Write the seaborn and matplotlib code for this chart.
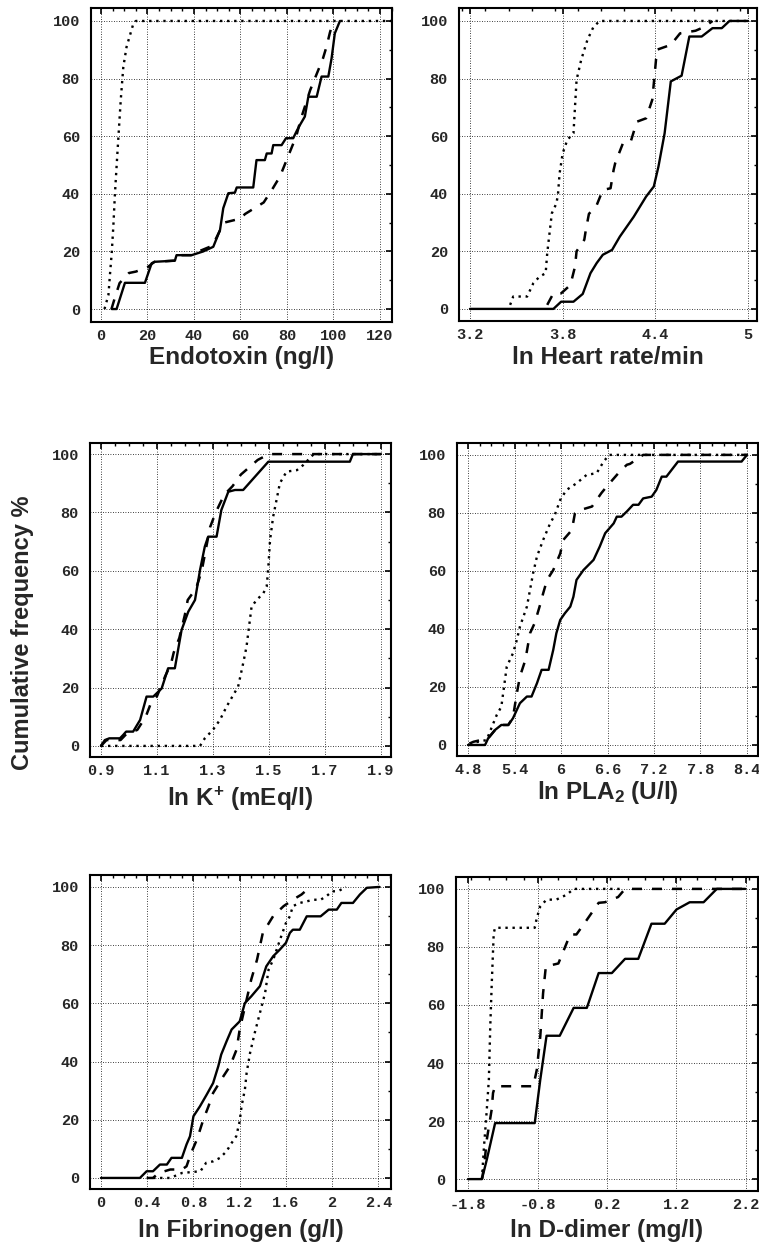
import matplotlib
matplotlib.use("Agg")
import matplotlib.pyplot as plt
import seaborn as sns
from matplotlib.ticker import FixedLocator, MultipleLocator, FuncFormatter

# ---- Endotoxin (ng/l)
endo_solid_x = [4.6, 6.7, 10.3, 18.9, 21.8, 23.2, 31.8, 32.5, 39.0, 44.0, 48.3, 51.2, 52.6, 54.8, 57.6, 58.4,
                65.5, 66.9, 70.5, 71.3, 73.4, 74.1, 77.7, 79.6, 82.7, 84.2, 85.6, 87.7, 89.2, 92.8, 94.9,
                97.8, 99.2, 100.6, 102.8]
endo_solid_y = [0, 0, 9.1, 9.1, 15.9, 16.4, 16.8, 18.7, 18.7, 20.0, 21.6, 27.4, 35.0, 40.2, 40.4, 42.2,
                42.2, 51.7, 51.7, 54.0, 54.0, 56.9, 56.9, 59.3, 59.3, 61.8, 63.9, 66.8, 73.7, 73.7, 80.7,
                80.7, 87.0, 95.7, 100]
endo_dash_x = [4.5, 6.0, 8.0, 12.0, 15.0, 20.0, 23.0, 32.0, 33.0, 39.0, 42.0, 45.0, 48.0, 51.0, 53.0, 58.0,
               60.0, 62.0, 66.0, 70.0, 74.0, 77.0, 79.0, 81.0, 84.0, 86.0, 88.0, 90.0, 92.0, 94.0, 95.5,
               97.0, 98.5, 100.0]
endo_dash_y = [0, 4, 9, 12.5, 13, 14.5, 16.4, 16.8, 18.7, 18.7, 20, 21, 22, 27, 30, 31, 31.5, 33, 35, 37,
               42, 46, 50, 54, 60, 66, 71, 76, 80, 84, 87, 91, 96, 100]
endo_dot_x = [1.5, 3.2, 3.9, 4.6, 5.3, 6.0, 6.7, 7.5, 8.5, 9.6, 11.0, 13.9, 15.0, 125]
endo_dot_y = [0, 4.9, 12.4, 19.3, 28.6, 40, 49.4, 59.8, 72.6, 84, 91, 99, 100, 100]
endo_ticks = [0, 20, 40, 60, 80, 100, 120]

# ---- ln Heart rate/min
hr_solid_x = [3.2, 3.74, 3.79, 3.87, 3.93, 3.98, 4.02, 4.06, 4.12, 4.17, 4.26, 4.34, 4.39, 4.42, 4.46,
              4.50, 4.57, 4.62, 4.70, 4.77, 4.83, 4.88, 5.0]
hr_solid_y = [0, 0, 2.5, 2.5, 5.2, 12.4, 15.9, 18.8, 20.5, 25.1, 32, 39, 42.5, 49.4, 61, 79, 81, 94.6,
              94.6, 97.5, 97.5, 100, 100]
hr_dash_x = [3.70, 3.74, 3.79, 3.85, 3.88, 3.89, 3.94, 3.95, 3.97, 4.02, 4.06, 4.11, 4.13, 4.14, 4.19,
             4.24, 4.28, 4.34, 4.38, 4.40, 4.41, 4.50, 4.56, 4.66, 4.72, 4.77]
hr_dash_y = [1.4, 5.4, 5.4, 8.3, 14.7, 20, 24, 27.4, 33, 36, 41.3, 41.9, 48.3, 50.6, 57.5, 58, 65, 66.2,
             72.6, 84, 90, 91.7, 95.7, 96.6, 98, 100]
hr_dot_x = [3.46, 3.48, 3.57, 3.61, 3.65, 3.69, 3.70, 3.71, 3.73, 3.76, 3.77, 3.78, 3.80, 3.83, 3.87,
            3.88, 3.89, 3.92, 3.96, 4.00, 4.04, 5.0]
hr_dot_y = [1.4, 4.3, 4.3, 8.9, 11.2, 12.4, 19.3, 24, 33.2, 36.7, 40, 47, 54, 58.7, 61, 70.3, 79.5, 86.5,
            93.4, 98, 100, 100]
hr_ticks = [3.2, 3.8, 4.4, 5.0]

# ---- ln K+ (mEq/l)
k_solid_x = [0.90, 0.914, 0.93, 0.968, 0.98, 0.99, 1.015, 1.04, 1.063, 1.087, 1.117, 1.14, 1.164, 1.188,
             1.212, 1.236, 1.254, 1.271, 1.283, 1.313, 1.33, 1.355, 1.379, 1.408, 1.498, 1.789, 1.80, 1.90]
k_solid_y = [0, 2, 2.6, 2.6, 3.8, 4.9, 4.9, 8.9, 16.9, 16.9, 19.7, 26.6, 26.6, 39.7, 46, 50, 60.3, 68.3,
             71.7, 71.7, 80.8, 87.1, 87.7, 87.7, 97.4, 97.4, 100, 100]
k_dash_x = [0.90, 0.92, 0.97, 0.99, 1.03, 1.06, 1.08, 1.10, 1.13, 1.15, 1.16, 1.18, 1.20, 1.21, 1.24,
            1.26, 1.28, 1.29, 1.31, 1.34, 1.37, 1.40, 1.43, 1.46, 1.50, 1.90]
k_dash_y = [0, 2, 2, 4, 5.5, 10, 15, 17, 24, 28, 32, 37, 45, 50, 54, 60, 70, 75, 80, 86, 89, 93, 95.5,
            98, 100, 100]
k_dot_x = [0.90, 1.254, 1.271, 1.30, 1.325, 1.349, 1.373, 1.39, 1.408, 1.42, 1.426, 1.438, 1.456, 1.48,
           1.492, 1.498, 1.504, 1.515, 1.527, 1.539, 1.563, 1.60, 1.622, 1.66, 1.90]
k_dot_y = [0, 0, 2.6, 5.5, 8.9, 13.5, 17.5, 20.3, 28.3, 34, 38.6, 47.7, 50, 52.3, 54.6, 61.4, 70.5, 78.5,
           84.2, 90, 94, 94.5, 96.2, 100, 100]
k_ticks = [0.9, 1.1, 1.3, 1.5, 1.7, 1.9]

# ---- ln PLA2 (U/l)
pla_solid_x = [4.80, 5.02, 5.06, 5.15, 5.23, 5.32, 5.38, 5.47, 5.56, 5.62, 5.69, 5.75, 5.84, 5.90, 5.94,
               5.99, 6.05, 6.12, 6.16, 6.20, 6.29, 6.42, 6.50, 6.57, 6.68, 6.72, 6.78, 6.85, 6.93, 7.00,
               7.06, 7.17, 7.23, 7.30, 7.36, 7.51, 8.33, 8.40]
pla_solid_y = [0, 0, 2.3, 5.2, 6.9, 6.9, 9.2, 14.4, 16.7, 16.7, 21.3, 25.9, 25.9, 32.8, 38.5, 43.1, 45.4,
               47.7, 51.1, 56.9, 60.3, 63.8, 68.4, 73, 76.4, 78.7, 78.7, 80.5, 82.8, 82.8, 85, 85.6, 87.9,
               92.5, 92.5, 97.7, 97.7, 100]
pla_dash_x = [4.82, 4.87, 5.06, 5.15, 5.23, 5.32, 5.38, 5.43, 5.47, 5.54, 5.60, 5.66, 5.73, 5.77, 5.82,
              5.90, 5.99, 6.03, 6.14, 6.18, 6.25, 6.40, 6.52, 6.59, 6.76, 6.85, 6.89, 7.06, 8.40]
pla_dash_y = [0.5, 1.1, 2.3, 5.2, 6.9, 6.9, 9.5, 17.8, 23.6, 29.3, 38.5, 42, 48.3, 52.3, 56.9, 60.3, 66,
              70.7, 74.1, 79.9, 81, 82.2, 86.8, 89.1, 94.3, 96.6, 96.9, 100, 100]
pla_dot_x = [4.82, 5.04, 5.10, 5.17, 5.23, 5.30, 5.38, 5.43, 5.47, 5.56, 5.64, 5.69, 5.77, 5.86, 5.92,
             5.99, 6.07, 6.20, 6.33, 6.46, 6.55, 6.62, 8.40]
pla_dot_y = [0.5, 1.7, 5.7, 10.3, 13.2, 27, 31.6, 36.2, 40.8, 47.7, 59.2, 65, 70.7, 76.4, 79.3, 84.5,
             87.9, 90.2, 93.1, 93.7, 97.7, 100, 100]
pla_ticks = [4.8, 5.4, 6.0, 6.6, 7.2, 7.8, 8.4]

# ---- ln Fibrinogen (g/l)
fib_solid_x = [0, 0.337, 0.395, 0.45, 0.51, 0.57, 0.61, 0.70, 0.74, 0.77, 0.80, 0.856, 0.914, 0.97,
               1.015, 1.04, 1.087, 1.13, 1.20, 1.245, 1.30, 1.375, 1.43, 1.49, 1.548, 1.60, 1.634, 1.66,
               1.72, 1.78, 1.90, 1.97, 2.04, 2.08, 2.18, 2.24, 2.30, 2.41]
fib_solid_y = [0, 0, 2.3, 2.3, 4.6, 4.6, 6.9, 6.9, 11.5, 14.3, 21.2, 24.6, 28.6, 32.6, 38.4, 42.4, 47,
               51, 53.8, 60.1, 62.4, 65.9, 72.7, 76.2, 78.5, 80.8, 84.2, 85.3, 85.3, 89.9, 89.9, 92.2,
               92.2, 94.5, 94.5, 97.4, 99.7, 100]
fib_dash_x = [0.395, 0.45, 0.50, 0.60, 0.70, 0.74, 0.78, 0.83, 0.885, 0.93, 0.97, 1.06, 1.116, 1.173,
              1.20, 1.26, 1.30, 1.35, 1.40, 1.49, 1.58, 1.66, 1.735, 1.81]
fib_dash_y = [0, 0, 1.7, 2.9, 2.9, 4, 8.6, 13.2, 20, 24.6, 29.2, 35, 38.4, 44.1, 51, 61.3, 68.2, 75,
              84.2, 90, 93.4, 95.6, 97.4, 100]
fib_dot_x = [0.45, 0.60, 0.70, 0.86, 0.91, 0.97, 1.03, 1.087, 1.13, 1.17, 1.20, 1.216, 1.245, 1.26,
             1.29, 1.33, 1.375, 1.42, 1.45, 1.49, 1.55, 1.60, 1.634, 1.66, 1.72, 1.84, 1.90, 1.95, 2.00,
             2.05, 2.12]
fib_dot_y = [0, 0, 1.7, 2.3, 5.2, 5.7, 6.9, 9.2, 12, 14.3, 19.5, 24.6, 30.4, 36.1, 43, 49.8, 56.7, 63.6,
             71.6, 75, 82, 87.6, 89.9, 93.4, 94.5, 95.6, 95.6, 96.8, 98.5, 98.5, 100]
fib_ticks = [0, 0.4, 0.8, 1.2, 1.6, 2.0, 2.4]

# ---- ln D-dimer (mg/l)
dd_solid_x = [-1.8, -1.6, -1.53, -1.41, -0.84, -0.76, -0.67, -0.48, -0.28, -0.09, 0.08, 0.27, 0.46,
              0.65, 0.84, 1.03, 1.20, 1.39, 1.59, 1.78, 2.19]
dd_solid_y = [0, 0, 6.7, 19.3, 19.3, 34.3, 49.4, 49.4, 59, 59, 71, 71, 75.9, 75.9, 88, 88, 92.9, 95.4,
              95.4, 100, 100]
dd_dash_x = [-1.6, -1.57, -1.53, -1.46, -1.44, -1.41, -0.86, -0.81, -0.76, -0.72, -0.68, -0.50, -0.33,
             -0.24, -0.10, 0.08, 0.17, 0.36, 0.46, 2.2]
dd_dash_y = [0, 4, 13.6, 23.9, 29.7, 32, 32, 37.7, 49.2, 64, 73.3, 74.3, 84.3, 84.3, 89, 95.2, 95.4,
             97.2, 100, 100]
dd_dot_x = [-1.6, -1.57, -1.54, -1.50, -1.48, -1.46, -1.43, -1.41, -0.84, -0.81, -0.76, -0.67, -0.53,
            -0.38, -0.28, 0.4]
dd_dot_y = [0, 11.3, 20.5, 34.3, 52.6, 66.4, 84.8, 86.6, 86.6, 90, 94, 96.3, 96.3, 98, 100, 100]
dd_ticks = [-1.8, -0.8, 0.2, 1.2, 2.2]

y_ticks = [0, 20, 40, 60, 80, 100]

sns.set_style("white")
plt.rcParams['font.family'] = ['Liberation Sans', 'DejaVu Sans']
plt.rcParams['mathtext.fontset'] = 'custom'
plt.rcParams['mathtext.rm'] = 'Liberation Sans:bold'
plt.rcParams['mathtext.it'] = 'Liberation Sans:bold'
plt.rcParams['mathtext.bf'] = 'Liberation Sans:bold'

W, H = 759, 1249
fig = plt.figure(figsize=(W / 100, H / 100), dpi=100)

tick_font = dict(family='Liberation Mono', weight='bold', size=11)
fmt = FuncFormatter(lambda v, p: f"{round(v, 3):g}")


def panel(box, xlim, ylim, ticks, minor, label, label_y, curves):
    l, r, t, b = box
    ax = fig.add_axes([l / W, 1 - b / H, (r - l) / W, (b - t) / H])
    # solid, dashed, dotted groups
    for (xs, ys), ls, lw in zip(curves, ['-', (0, (4, 4)), (0, (1, 2))], [1.7, 1.8, 1.7]):
        sns.lineplot(x=xs, y=ys, ax=ax, color='black', linewidth=lw, linestyle=ls,
                     estimator=None, sort=False, dash_capstyle='butt')
    ax.set_xlim(*xlim)
    ax.set_ylim(*ylim)
    ax.xaxis.set_major_locator(FixedLocator(ticks))
    ax.xaxis.set_minor_locator(MultipleLocator(minor))
    ax.xaxis.set_major_formatter(fmt)
    ax.yaxis.set_major_locator(FixedLocator(y_ticks))
    ax.yaxis.set_minor_locator(MultipleLocator(10))
    ax.grid(True, which='major', color='black', linestyle=(0, (1, 2)), linewidth=0.6)
    ax.tick_params(which='both', direction='in', top=True, right=True, color='black')
    ax.tick_params(which='major', length=4, width=1.2)
    ax.tick_params(which='minor', length=2.5, width=1.0)
    ax.tick_params(axis='x', pad=5)
    ax.tick_params(axis='y', pad=8)
    for lab in ax.get_xticklabels() + ax.get_yticklabels():
        lab.set_fontproperties(tick_font)
    for s in ax.spines.values():
        s.set_visible(True)
        s.set_color('black')
        s.set_linewidth(1.5)
    ax.set_xlabel(label, fontsize=17.5, fontweight='bold', va='top')
    ax.xaxis.set_label_coords(0.5, label_y)
    ax.set_ylabel('')
    return ax


panel((91, 392, 8, 322), (-4.3, 125.2), (-4.5, 104.5), endo_ticks, 5, 'Endotoxin (ng/l)', -0.078,
      [(endo_solid_x, endo_solid_y), (endo_dash_x, endo_dash_y), (endo_dot_x, endo_dot_y)])
panel((459, 757, 8, 321), (3.129, 5.058), (-4.2, 104.5), hr_ticks, 0.15, 'ln Heart rate/min', -0.081,
      [(hr_solid_x, hr_solid_y), (hr_dash_x, hr_dash_y), (hr_dot_x, hr_dot_y)])
panel((90, 391, 443, 757), (0.861, 1.936), (-3.8, 103.8), k_ticks, 0.05, r'ln K$^{+}$ (mEq/l)', -0.087,
      [(k_solid_x, k_solid_y), (k_dash_x, k_dash_y), (k_dot_x, k_dot_y)])
panel((457, 758, 443, 756), (4.658, 8.542), (-3.8, 104.1), pla_ticks, 0.15, r'ln PLA$_{2}$ (U/l)', -0.075,
      [(pla_solid_x, pla_solid_y), (pla_dash_x, pla_dash_y), (pla_dot_x, pla_dot_y)])
panel((90, 391, 875, 1189), (-0.095, 2.509), (-3.8, 104.1), fib_ticks, 0.1, 'ln Fibrinogen (g/l)', -0.094,
      [(fib_solid_x, fib_solid_y), (fib_dash_x, fib_dash_y), (fib_dot_x, fib_dot_y)])
panel((456, 758, 877, 1191), (-1.973, 2.373), (-4.1, 104.1), dd_ticks, 0.25, 'ln D-dimer (mg/l)', -0.090,
      [(dd_solid_x, dd_solid_y), (dd_dash_x, dd_dash_y), (dd_dot_x, dd_dot_y)])

fig.text(23 / W, 1 - 633 / H, 'Cumulative frequency %', rotation=90, fontsize=17, fontweight='bold',
         ha='center', va='center')

fig.savefig('out.png', dpi=100)
